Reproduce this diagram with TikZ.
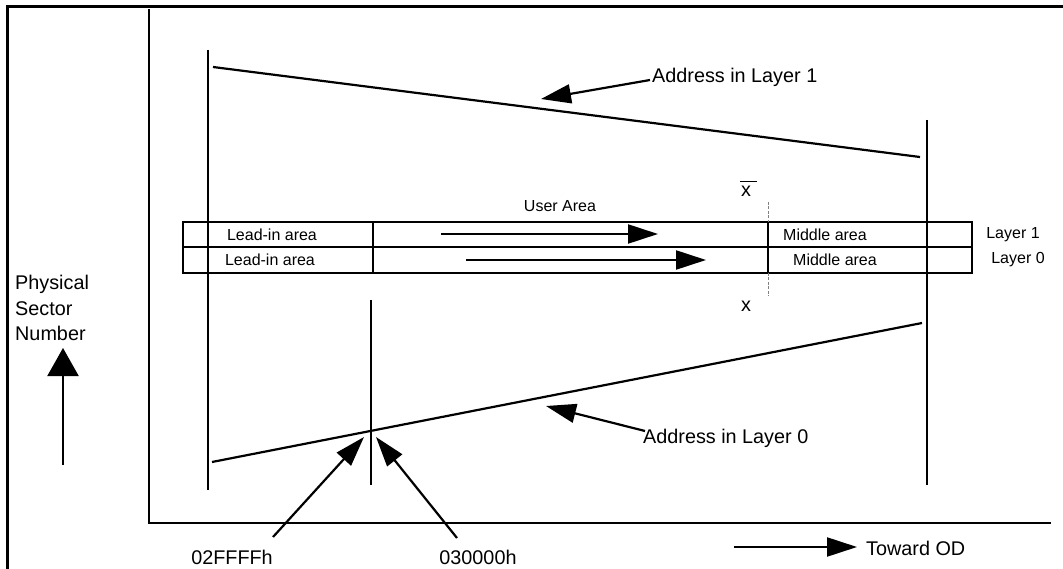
\documentclass[tikz,border=0pt]{standalone}
\usepackage{fontspec}
\setmainfont{Liberation Sans}
\usetikzlibrary{arrows.meta}
\begin{document}
\begin{tikzpicture}[x=1pt,y=-1pt,
  ln/.style={line width=2.2pt},
  framel/.style={line width=3pt},
  big/.style={font=\fontsize{19.8}{25.5}\selectfont, inner sep=0pt},
  small/.style={font=\fontsize{16}{19}\selectfont, inner sep=0pt},
  tip/.style={ln,-{Triangle[length=30pt,width=19pt]}},
  uptip/.style={ln,-{Triangle[length=28pt,width=31pt]}}]
\useasboundingbox (0,0) rectangle (1063,569);
\clip (0,0) rectangle (1063,569);
% outer frame
\draw[framel] (7,575) -- (7,7) -- (1070,7);
% axes
\coordinate (ytop) at (149,9);
\coordinate (orig) at (149,523);
\coordinate (xend) at (1051,523);
\draw[ln] (ytop) -- (orig) -- (xend);
% long verticals
\coordinate (lv1) at (208,50);  \coordinate (lv2) at (208,490);
\coordinate (rv1) at (927,120); \coordinate (rv2) at (927,485);
\coordinate (iv1) at (371,300); \coordinate (iv2) at (371,485);
\draw[ln] (lv1) -- (lv2);
\draw[ln] (rv1) -- (rv2);
\draw[ln] (iv1) -- (iv2);
% address lines
\coordinate (a1s) at (213,67);  \coordinate (a1e) at (920,157);
\coordinate (a0s) at (212,462); \coordinate (a0e) at (922,323);
\draw[ln] (a1s) -- (a1e);
\draw[ln] (a0s) -- (a0e);
% strip
\draw[ln] (183,222) rectangle (972,247);
\draw[ln] (183,247) rectangle (972,273);
\draw[ln] (373,222) -- (373,273);
\draw[ln] (768,222) -- (768,273);
\draw[gray, line width=1pt, dash pattern=on 3pt off 1.5pt] (768,202) -- (768,222);
\draw[gray, line width=1pt, dash pattern=on 3pt off 1.5pt] (768,273) -- (768,296);
% strip labels
\node[small] (ua) at (560,206) {User Area};
\node[small] (li1) at (272,235) {Lead-in area};
\node[small] (li0) at (270,260) {Lead-in area};
\node[small] (ma1) at (825,235) {Middle area};
\node[small] (ma0) at (835,260) {Middle area};
\node[small] (l1) at (1013,235) {Layer 1};
\node[small] (l0) at (1018,260) {Layer 0};
% user area arrows
\coordinate (u1s) at (441,234); \coordinate (u1e) at (658,234);
\coordinate (u0s) at (466,260); \coordinate (u0e) at (706,260);
\draw[tip] (u1s) -- (u1e);
\draw[tip] (u0s) -- (u0e);
% x bar and x
\node[big] (xb) at (746,191) {x};
\draw[line width=1.5pt] (740,181.5) -- (757,181.5);
\node[big] (xx) at (746,306) {x};
% address labels
\node[big, anchor=west] (ad1) at (652,77) {Address in Layer 1};
\node[big, anchor=west] (ad0) at (643,438) {Address in Layer 0};
\coordinate (ad1a) at (650,80); \coordinate (ad1t) at (541,99);
\coordinate (ad0a) at (645,431); \coordinate (ad0t) at (546,406);
\draw[tip] (ad1a) -- (ad1t);
\draw[tip] (ad0a) -- (ad0t);
% bottom labels
\node[big] (h1) at (232,557) {02FFFFh};
\node[big] (h2) at (478,557) {030000h};
\coordinate (h1a) at (273,537); \coordinate (h1t) at (364,437);
\coordinate (h2a) at (457,538); \coordinate (h2t) at (376,437);
\draw[tip] (h1a) -- (h1t);
\draw[tip] (h2a) -- (h2t);
\node[big, anchor=west] (tod) at (866,548) {Toward OD};
\coordinate (tods) at (734,547); \coordinate (tode) at (857,547);
\draw[tip] (tods) -- (tode);
% y axis label
\node[big, anchor=west, align=left] (psn) at (15,308) {Physical\\Sector\\Number};
\coordinate (ups) at (63,465); \coordinate (upe) at (63,348);
\draw[uptip] (ups) -- (upe);
\end{tikzpicture}
\end{document}
